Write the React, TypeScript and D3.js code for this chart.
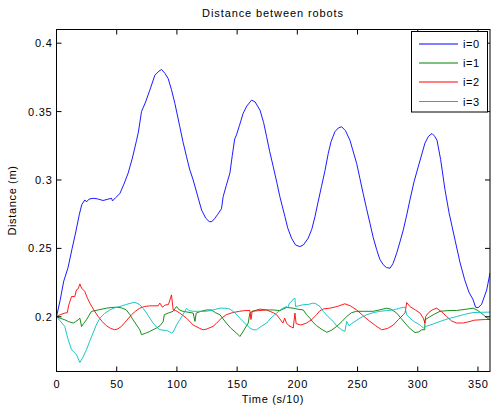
import React from "react";
import * as d3 from "d3";

const xTicks = [0, 50, 100, 150, 200, 250, 300, 350];
const yTicks = [0.2, 0.25, 0.3, 0.35, 0.4];
const yTickLabels = ["0.2", "0.25", "0.3", "0.35", "0.4"];
const seriesNames = ["i=0", "i=1", "i=2", "i=3"];
const seriesColors = ["#0000ff", "#008000", "#ff0000", "#00bfbf"];

const robot0: [number, number][] = [
  [0,0.200],[3,0.212],[6,0.226],[9.6,0.236],[13,0.250],[16,0.262],[19,0.275],[21,0.282],[23.5,0.2854],[25,0.284],[27,0.286],[30.4,0.2866],[34,0.2862],[38.7,0.285],[42,0.2858],[45.7,0.2866],[46.5,0.2847],[49,0.287],[52.6,0.290],[56,0.297],[59.5,0.305],[63,0.316],[66.5,0.329],[68,0.335],[70.6,0.350],[74,0.357],[77.5,0.3657],[81.7,0.3766],[85,0.3795],[87.2,0.3808],[90,0.378],[92.7,0.3742],[95.5,0.366],[98.3,0.356],[102.4,0.339],[105,0.328],[108,0.317],[110.5,0.308],[113.5,0.300],[117,0.289],[120.5,0.278],[124,0.272],[126.8,0.2696],[129,0.2695],[131.5,0.272],[134,0.275],[137,0.279],[138.4,0.2878],[141,0.296],[144,0.305],[146,0.318],[148,0.330],[149.5,0.333],[152,0.340],[155,0.3487],[158,0.354],[162,0.3584],[165,0.357],[169,0.351],[172,0.342],[174.5,0.3316],[177,0.321],[180,0.3097],[183,0.298],[185.5,0.2878],[189.7,0.2732],[192,0.265],[195.2,0.2574],[198.5,0.2525],[202.1,0.2513],[205,0.2525],[209,0.2574],[212,0.264],[214.6,0.273],[217,0.283],[220,0.295],[223,0.307],[225.7,0.3195],[228,0.328],[231.2,0.3353],[234,0.338],[236.8,0.3389],[240,0.336],[243.7,0.329],[246,0.322],[249.3,0.312],[252,0.301],[254.7,0.290],[257.5,0.279],[260.3,0.2684],[263,0.258],[265.9,0.249],[268.5,0.242],[271.4,0.238],[274,0.236],[277,0.2355],[279.5,0.239],[282.5,0.2465],[285,0.254],[288,0.2635],[291,0.275],[293.5,0.2854],[297,0.299],[302,0.3146],[306,0.327],[309,0.332],[311.8,0.334],[314,0.332],[316,0.329],[319,0.315],[322.6,0.293],[326,0.276],[331,0.256],[335,0.240],[339,0.227],[342.5,0.218],[346,0.2124],[348,0.207],[350,0.2066],[353,0.209],[357.3,0.2197],[360,0.232]
];

const robot1: [number, number][] = [
  [0,0.200],[3,0.199],[6.9,0.1978],[10,0.1965],[13.8,0.1954],[16,0.1965],[18,0.1978],[19.4,0.199],[20.8,0.1929],[22.5,0.195],[24.9,0.1978],[27,0.201],[29,0.2039],[34.6,0.205],[41.5,0.2063],[46,0.2068],[49.8,0.207],[54,0.2065],[58,0.205],[61,0.2015],[63.6,0.1978],[66.5,0.194],[69.2,0.1905],[70.6,0.1869],[74,0.188],[77.5,0.1893],[83,0.1918],[86,0.1935],[88.6,0.1966],[89.5,0.2015],[92.7,0.2027],[96.9,0.204],[99.7,0.2075],[102,0.205],[105,0.204],[113.5,0.2027],[115,0.1966],[116,0.2027],[120,0.204],[124.6,0.205],[128.6,0.205],[132,0.203],[135.7,0.2015],[141,0.1954],[145,0.1915],[149.5,0.1881],[152.3,0.1856],[155,0.1893],[159.2,0.1954],[160.6,0.2027],[163.3,0.2042],[169,0.2056],[174.5,0.205],[180,0.205],[185.5,0.2045],[191,0.2068],[196.6,0.2063],[200.5,0.2055],[204.9,0.205],[207.7,0.2015],[210.4,0.199],[213,0.196],[216,0.1935],[220,0.191],[224.3,0.1887],[228,0.19],[232.6,0.1929],[237,0.1965],[241,0.2002],[245,0.203],[249.3,0.204],[256,0.204],[263,0.204],[268,0.205],[274.2,0.2063],[278,0.2055],[282.5,0.2027],[286.5,0.1985],[290.8,0.194],[294,0.191],[297.7,0.1885],[301,0.189],[303.3,0.1905],[305.8,0.1905],[306,0.1978],[310,0.2],[314,0.202],[318.5,0.204],[325,0.2045],[332.3,0.2046],[340,0.2055],[346,0.2063],[350,0.2045],[354.4,0.2015],[357,0.1995],[360,0.1978]
];

const robot2: [number, number][] = [
  [0,0.200],[3,0.2015],[6.9,0.2027],[9,0.203],[10,0.208],[12.5,0.2148],[15.2,0.2148],[16.6,0.2197],[18,0.2205],[19.4,0.224],[20.8,0.221],[23.5,0.2185],[25.5,0.214],[27.7,0.210],[31,0.205],[34.6,0.2002],[38,0.1965],[41.5,0.1934],[45,0.1915],[48.4,0.1905],[51,0.1912],[54,0.193],[58,0.197],[62.3,0.2015],[65.5,0.204],[69.2,0.2063],[73,0.2075],[77.5,0.208],[81,0.208],[84.4,0.208],[85.8,0.210],[88,0.207],[90,0.2085],[93,0.209],[95.5,0.216],[96.9,0.205],[99,0.2045],[102.4,0.2027],[108,0.199],[113.5,0.194],[119,0.1915],[121.8,0.1905],[124.6,0.191],[130,0.193],[133,0.1954],[137,0.199],[141,0.2015],[146,0.203],[152,0.204],[156,0.2045],[160.6,0.2046],[161.5,0.198],[162.5,0.204],[168,0.2045],[174.5,0.205],[177,0.204],[180,0.203],[182.8,0.2015],[185,0.199],[188,0.1954],[189.5,0.199],[191,0.1955],[193,0.1935],[196.6,0.1918],[198,0.2027],[199,0.195],[203,0.194],[207.7,0.1954],[212,0.198],[216,0.2015],[218.8,0.2045],[222,0.2058],[227,0.2063],[233,0.2075],[239.5,0.2095],[244,0.208],[249.3,0.205],[255,0.2005],[260.3,0.1966],[265,0.1935],[270,0.1905],[275,0.1915],[279.7,0.194],[284,0.198],[288,0.2015],[289.5,0.203],[290.8,0.2104],[293.5,0.2075],[298,0.205],[301.9,0.2027],[304.6,0.199],[306,0.1954],[306.5,0.2],[308.7,0.2027],[312,0.205],[315.7,0.2063],[320,0.2035],[324,0.2002],[328,0.197],[332.3,0.1954],[338,0.1955],[343.4,0.1966],[347,0.1975],[351.7,0.1978],[356,0.198],[360,0.198]
];

const robot3: [number, number][] = [
  [0,0.200],[3,0.197],[6.9,0.1929],[9.7,0.1832],[12.5,0.1759],[16.6,0.1723],[19.4,0.1666],[22,0.1705],[24.9,0.1759],[27.5,0.182],[30.4,0.1881],[33,0.194],[36,0.199],[40,0.2025],[44.3,0.205],[48,0.2065],[52.6,0.2075],[58,0.209],[63.6,0.2104],[66,0.2103],[69.2,0.2088],[72,0.206],[74.8,0.2027],[77.5,0.199],[80.3,0.1954],[83,0.1925],[85.8,0.1905],[91.4,0.19],[94,0.189],[95.5,0.1881],[97,0.189],[99.7,0.194],[102.5,0.198],[105,0.2015],[108,0.2063],[110,0.2045],[113.5,0.204],[118,0.204],[124.6,0.204],[130,0.205],[135.7,0.2063],[140,0.2063],[144,0.2056],[148,0.203],[152.3,0.199],[156,0.1955],[160.6,0.1918],[163.3,0.1905],[166,0.1905],[170,0.193],[174.5,0.1954],[178,0.199],[182.8,0.2027],[186,0.205],[188,0.2063],[191,0.2075],[192,0.2065],[193.5,0.21],[195.2,0.2112],[196.6,0.2129],[198,0.2136],[198.5,0.2075],[201,0.208],[204.9,0.2088],[209,0.209],[213.2,0.21],[215.5,0.2095],[218.8,0.2075],[221.5,0.204],[225,0.2005],[229.8,0.1966],[233,0.193],[236.8,0.1905],[239.5,0.1893],[241,0.1966],[243,0.1935],[245,0.195],[247.8,0.1966],[252,0.199],[257.6,0.2015],[263,0.203],[268.6,0.204],[274,0.2045],[279.7,0.205],[284,0.206],[288,0.207],[289.5,0.2068],[290.8,0.2015],[293.5,0.199],[297,0.1965],[301.9,0.194],[304.6,0.1918],[307,0.193],[312,0.1945],[318.5,0.1966],[325,0.1985],[332.3,0.2002],[339,0.2018],[346,0.2031],[353,0.2033],[360,0.2034]
];

const allSeries = [robot0, robot1, robot2, robot3];

const W = 491;
const H = 407;
const left = 56.5;
const right = 490;
const top = 29.5;
const bottom = 371.5;
const font = "'Liberation Sans', Arial, Helvetica, sans-serif";

export default function App() {
  const x = d3.scaleLinear().domain([0, 360]).range([left, right]);
  const y = d3.scaleLinear().domain([0.16, 0.41]).range([bottom, top]);
  const line = d3
    .line<[number, number]>()
    .x((d) => x(d[0]))
    .y((d) => y(d[1]));
  const tl = 5;
  const legX = 411.5;
  const legY = 31.5;
  const legW = 76;
  const legH = 80.5;
  const rowY = [44, 63, 82, 101.5];
  const ls = 0.75;

  return (
    <svg
      width={W}
      height={H}
      style={{ position: "absolute", left: 0, top: 0, background: "#fff" }}
      fontFamily={font}
    >
      <rect x={0} y={0} width={W} height={H} fill="#fff" />
      <defs>
        <clipPath id="plot">
          <rect x={left} y={top} width={right - left} height={bottom - top} />
        </clipPath>
      </defs>
      <g clipPath="url(#plot)">
        {allSeries.map((s, i) => (
          <path
            key={i}
            d={line(s) || ""}
            fill="none"
            stroke={seriesColors[i]}
            strokeWidth={0.9}
            strokeLinejoin="round"
          />
        ))}
      </g>
      <rect
        x={left}
        y={top}
        width={right - left}
        height={bottom - top}
        fill="none"
        stroke="#000"
        strokeWidth={1}
      />
      {xTicks.map((t) => (
        <g key={"x" + t}>
          <line x1={x(t)} x2={x(t)} y1={bottom} y2={bottom - tl} stroke="#000" />
          <line x1={x(t)} x2={x(t)} y1={top} y2={top + tl} stroke="#000" />
          <text x={x(t) + ls / 2} y={388} fontSize={11} letterSpacing={ls} textAnchor="middle" fill="#000">
            {t}
          </text>
        </g>
      ))}
      {yTicks.map((t, i) => (
        <g key={"y" + t}>
          <line x1={left} x2={left + tl} y1={y(t)} y2={y(t)} stroke="#000" />
          <line x1={right} x2={right - tl} y1={y(t)} y2={y(t)} stroke="#000" />
          <text x={52.5} y={y(t) + 4} fontSize={11} letterSpacing={ls} textAnchor="end" fill="#000">
            {yTickLabels[i]}
          </text>
        </g>
      ))}
      <text x={273} y={17} fontSize={11} letterSpacing={0.9} textAnchor="middle" fill="#000">
        Distance between robots
      </text>
      <text x={273} y={403} fontSize={11} letterSpacing={0.65} textAnchor="middle" fill="#000">
        Time (s/10)
      </text>
      <text
        transform={`translate(16, ${(top + bottom) / 2}) rotate(-90)`}
        fontSize={11}
        letterSpacing={0.65}
        textAnchor="middle"
        fill="#000"
      >
        Distance (m)
      </text>
      <rect x={legX} y={legY} width={legW} height={legH} fill="#fff" stroke="#000" />
      {seriesNames.map((n, i) => (
        <g key={n}>
          <line x1={419} x2={458} y1={rowY[i]} y2={rowY[i]} stroke={seriesColors[i]} />
          <text x={463} y={rowY[i] + 4} fontSize={11} letterSpacing={0.6} fill="#000">
            {n}
          </text>
        </g>
      ))}
    </svg>
  );
}
